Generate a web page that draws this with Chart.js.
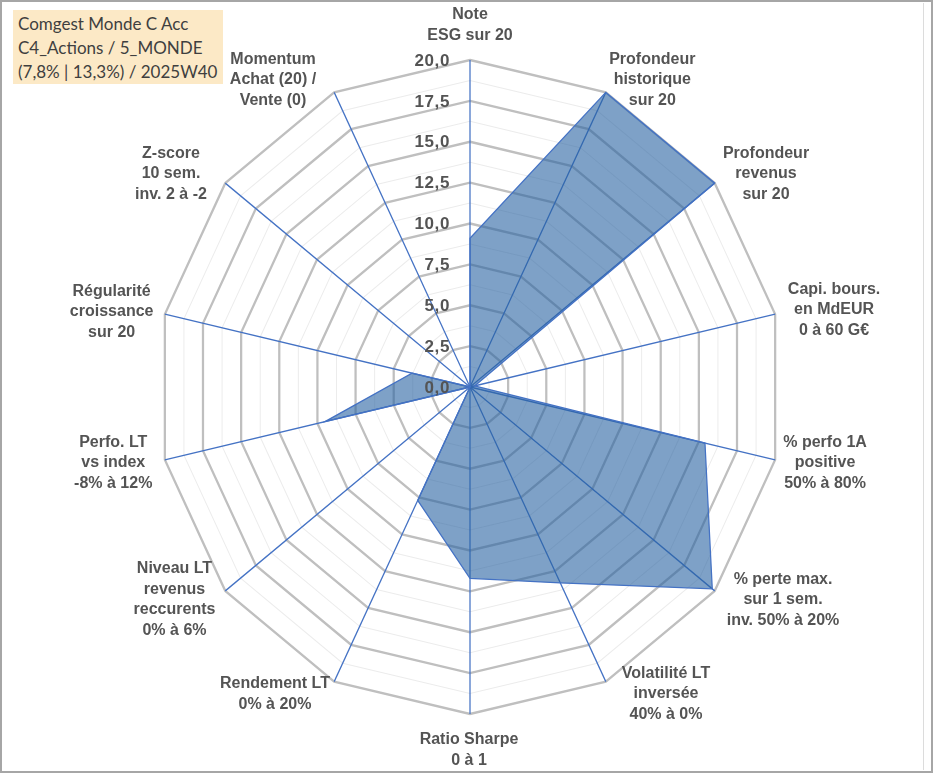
<!DOCTYPE html>
<html>
<head>
<meta charset="utf-8">
<script src="https://cdn.jsdelivr.net/npm/chart.js@4"></script>
<style>
html, body { margin: 0; padding: 0; background: #ffffff; }
#wrap { position: relative; width: 933px; height: 776px; overflow: hidden; }
#c { position: absolute; left: 0; top: 0; }
#frame { position: absolute; left: 0; top: 0; width: 929px; height: 769px; border: 2px solid #A6A6A6; pointer-events: none; }
#inner { position: absolute; left: 923px; top: 3px; width: 1px; height: 767px; background: #DCDCDC; }
#title { position: absolute; left: 13px; top: 10px; width: 205px; height: 72px; padding: 2px 0 0 5px;
  background: #FCE9C6; font-family: Lato, "Open Sans", sans-serif; font-size: 17px; line-height: 24px; color: #3F3F3F; white-space: nowrap; }
</style>
</head>
<body>
<div id="wrap">
  <canvas id="c" width="933" height="776"></canvas>
  <div id="title">
    <div>Comgest Monde C Acc</div>
    <div>C4_Actions / 5_MONDE</div>
    <div>(7,8% | 13,3%) / 2025W40</div>
  </div>
  <div id="inner"></div>
  <div id="frame"></div>
</div>
<script>
const categories = [
  ['Note', 'ESG sur 20'],
  ['Profondeur', 'historique', 'sur 20'],
  ['Profondeur', 'revenus', 'sur 20'],
  ['Capi. bours.', 'en MdEUR', '0 à 60 G€'],
  ['% perfo 1A', 'positive', '50% à 80%'],
  ['% perte max.', 'sur 1 sem.', 'inv. 50% à 20%'],
  ['Volatilité LT', 'inversée', '40% à 0%'],
  ['Ratio Sharpe', '0 à 1'],
  ['Rendement LT', '0% à 20%'],
  ['Niveau LT', 'revenus', 'reccurents', '0% à 6%'],
  ['Perfo. LT', 'vs index', '-8% à 12%'],
  ['Régularité', 'croissance', 'sur 20'],
  ['Z-score', '10 sem.', 'inv. 2 à -2'],
  ['Momentum', 'Achat (20) /', 'Vente (0)']
];
const values = [9.1, 20, 20, 0.3, 15.4, 19.8, 13.3, 11.7, 7.7, 0, 9.5, 3.8, 0, 0];
const tickLabels = ['0,0', '2,5', '5,0', '7,5', '10,0', '12,5', '15,0', '17,5', '20,0'];
const scaleMin = 0;
const scaleMax = 20;
const majorStep = 2.5;
const minorStep = 1.25;

// layout (not data): vertical stretch of the radar and label block offsets from each axis end
const SY = 327 / 313;
const labelOffsets = [
  [0, -36], [46.5, -13.4], [51.3, -10.1], [58.9, -5.2], [49.9, 2.2], [68.3, 8.1], [60.2, 11.4],
  [-1, 35], [-59.2, 11.4], [-50.8, 7.6], [-51.6, 2.2], [-53.2, -3.2], [-54.3, -10.1], [-61.2, -13.4]
];

const stretchPlugin = {
  id: 'stretch',
  beforeDraw(chart) {
    const s = chart.scales.r, ctx = chart.ctx;
    ctx.save();
    ctx.translate(s.xCenter, s.yCenter);
    ctx.scale(1, SY);
    ctx.translate(-s.xCenter, -s.yCenter);
  },
  afterDatasetsDraw(chart) {
    chart.ctx.restore();
  }
};

const textPlugin = {
  id: 'texts',
  afterDraw(chart) {
    const s = chart.scales.r, ctx = chart.ctx;
    ctx.save();
    ctx.fillStyle = '#545454';
    ctx.textBaseline = 'middle';
    ctx.font = 'bold 17px "Liberation Sans", Arial, sans-serif';
    ctx.textAlign = 'right';
    if ('letterSpacing' in ctx) ctx.letterSpacing = '0.6px';
    tickLabels.forEach((t, k) => {
      const v = scaleMin + k * majorStep;
      const d = s.getDistanceFromCenterForValue(v) * SY;
      ctx.fillText(t, s.xCenter - 20, s.yCenter - d + 1);
    });
    if ('letterSpacing' in ctx) ctx.letterSpacing = '0px';
    ctx.font = 'bold 16px "Liberation Sans", Arial, sans-serif';
    ctx.textAlign = 'center';
    const lh = 20.5;
    categories.forEach((lines, i) => {
      const p = s.getPointPosition(i, s.drawingArea);
      const x = p.x + labelOffsets[i][0];
      const y = s.yCenter + (p.y - s.yCenter) * SY + labelOffsets[i][1];
      lines.forEach((ln, k) => ctx.fillText(ln, x, y + (k - (lines.length - 1) / 2) * lh + 1));
    });
    ctx.restore();
  }
};

new Chart(document.getElementById('c'), {
  type: 'radar',
  data: {
    labels: categories,
    datasets: [{
      data: values,
      backgroundColor: 'rgba(40, 98, 162, 0.6)',
      borderColor: '#4472C4',
      borderWidth: 1.25,
      pointRadius: 0,
      pointHoverRadius: 0,
      fill: true,
      clip: false,
      tension: 0
    }]
  },
  options: {
    responsive: false,
    animation: false,
    layout: { padding: { top: 74, bottom: 76, left: 157, right: 150 } },
    plugins: { legend: { display: false }, tooltip: { enabled: false } },
    scales: {
      r: {
        min: scaleMin,
        max: scaleMax,
        ticks: { display: false, stepSize: minorStep },
        grid: {
          color: c => (c.index % 2 === 0 ? '#BFBFBF' : '#ECECEC'),
          lineWidth: c => (c.index % 2 === 0 ? 2.25 : 1)
        },
        angleLines: { color: '#4472C4', lineWidth: 1.25 },
        pointLabels: { display: false }
      }
    }
  },
  plugins: [stretchPlugin, textPlugin]
});
</script>
</body>
</html>
